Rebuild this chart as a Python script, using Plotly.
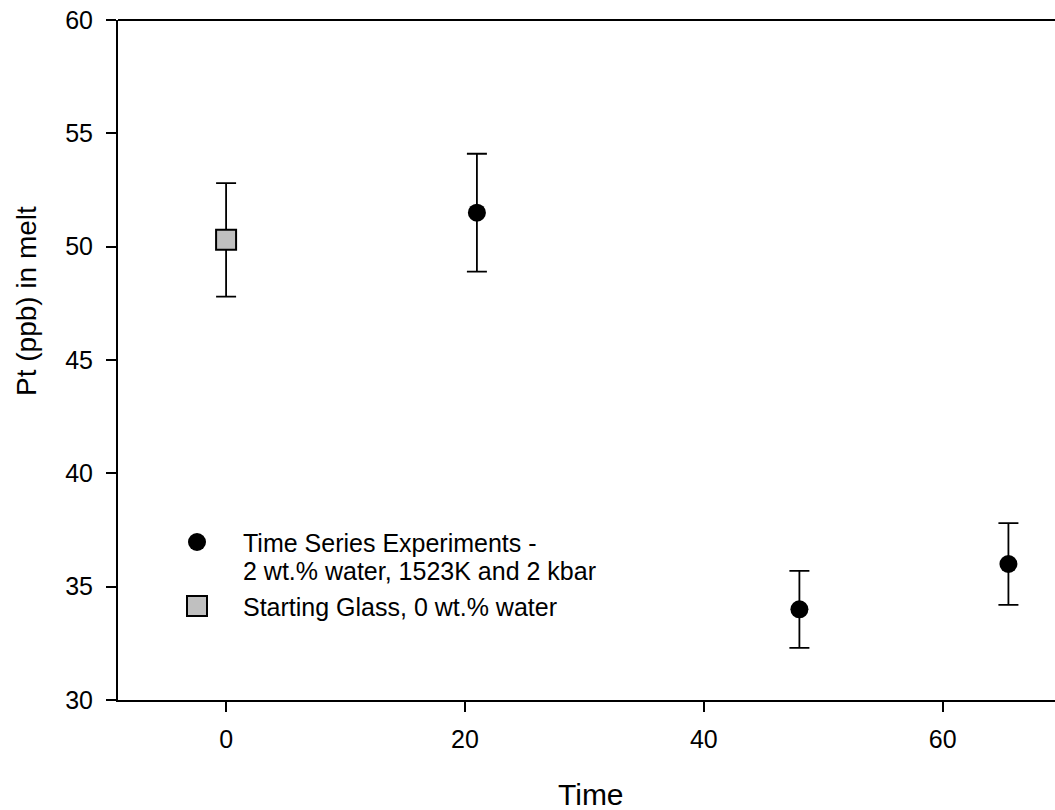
import plotly.graph_objects as go

# Data
ts_time = [21, 48, 65.5]
ts_pt = [51.5, 34.0, 36.0]
ts_err = [2.6, 1.7, 1.8]

sg_time = [0]
sg_pt = [50.3]
sg_err = [2.5]

x_ticks = [0, 20, 40, 60]
y_ticks = [30, 35, 40, 45, 50, 55, 60]

ts_label = ["Time Series Experiments -", "2 wt.% water, 1523K and 2 kbar"]
sg_label = "Starting Glass, 0 wt.% water"

FONT = "Liberation Sans, Arial, sans-serif"

# plot area geometry (pixels)
L, R, T, B = 118, 0, 20, 110
W, H = 1055, 810
PW, PH = W - L - R, H - T - B


def px(x):
    return (x - L) / PW


def py(y):
    return (H - B - y) / PH


fig = go.Figure()
fig.add_trace(go.Scatter(
    x=ts_time, y=ts_pt, mode="markers", showlegend=False,
    marker=dict(symbol="circle", size=18, color="black", line=dict(width=0)),
    error_y=dict(type="data", array=ts_err, visible=True, color="black", thickness=1.8, width=10),
))
fig.add_trace(go.Scatter(
    x=sg_time, y=sg_pt, mode="markers", showlegend=False,
    marker=dict(symbol="square", size=20, color="#c0c0c0", line=dict(width=2, color="black")),
    error_y=dict(type="data", array=sg_err, visible=True, color="black", thickness=1.8, width=10),
))

shapes = [
    # top frame line
    dict(type="line", xref="paper", yref="paper", x0=0, x1=1, y0=1, y1=1,
         line=dict(color="black", width=2)),
    # legend symbols
    dict(type="circle", xref="paper", yref="paper", xsizemode="pixel", ysizemode="pixel",
         xanchor=px(197), yanchor=py(542), x0=-9, x1=9, y0=-9, y1=9,
         fillcolor="black", line=dict(width=0)),
    dict(type="rect", xref="paper", yref="paper", xsizemode="pixel", ysizemode="pixel",
         xanchor=px(197), yanchor=py(606), x0=-10, x1=10, y0=-10, y1=10,
         fillcolor="#c0c0c0", line=dict(width=2, color="black")),
]

ann_font = dict(size=25, family=FONT, color="black")
annotations = [
    dict(text=ts_label[0], xref="paper", yref="paper", x=px(241), y=py(543),
         xanchor="left", yanchor="middle", showarrow=False, font=ann_font),
    dict(text=ts_label[1], xref="paper", yref="paper", x=px(241), y=py(571),
         xanchor="left", yanchor="middle", showarrow=False, font=ann_font),
    dict(text=sg_label, xref="paper", yref="paper", x=px(241), y=py(607),
         xanchor="left", yanchor="middle", showarrow=False, font=ann_font),
    # axis titles
    dict(text="Time", xref="paper", yref="paper", x=px(591), y=py(794),
         xanchor="center", yanchor="middle", showarrow=False,
         font=dict(size=30, family=FONT, color="black")),
    dict(text="Pt (ppb) in melt", xref="paper", yref="paper", x=px(26), y=py(301),
         xanchor="center", yanchor="middle", showarrow=False, textangle=-90,
         font=dict(size=28, family=FONT, color="black")),
]

fig.update_layout(
    width=W, height=H,
    margin=dict(l=L, r=R, t=T, b=B),
    paper_bgcolor="white", plot_bgcolor="white",
    font=dict(family=FONT, size=25, color="black"),
    showlegend=False,
    shapes=shapes,
    annotations=annotations,
    xaxis=dict(range=[-9.05, 69.4], tickvals=x_ticks, ticks="outside", ticklen=10,
               tickwidth=2, tickcolor="black", showline=True, linecolor="black", linewidth=2,
               showgrid=False, zeroline=False, ticklabelstandoff=6,
               tickfont=dict(size=25, family=FONT)),
    yaxis=dict(range=[30, 60], tickvals=y_ticks, ticks="outside", ticklen=10,
               tickwidth=2, tickcolor="black", showline=True, linecolor="black", linewidth=2,
               showgrid=False, zeroline=False, ticklabelstandoff=8,
               tickfont=dict(size=25, family=FONT)),
)

fig.write_html("out.html")
